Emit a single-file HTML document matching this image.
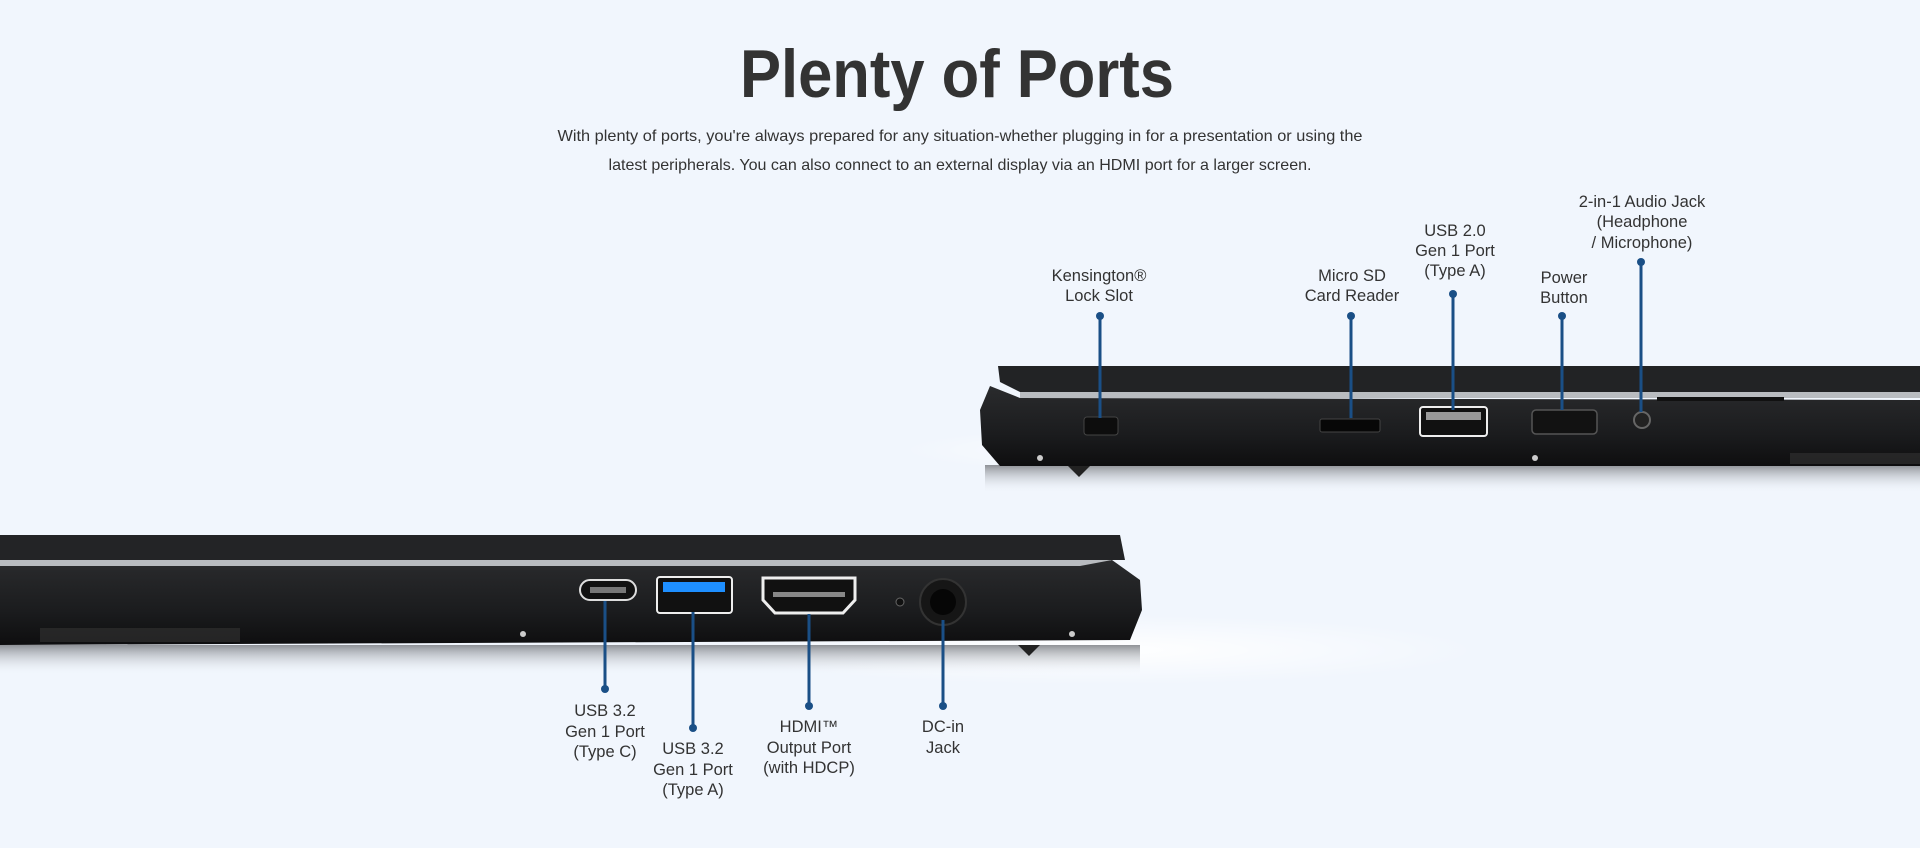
<!DOCTYPE html>
<html><head><meta charset="utf-8"><style>
html,body{margin:0;padding:0;width:1920px;height:848px;overflow:hidden;background:#f1f6fd;}
svg{display:block}
text{font-family:"Liberation Sans",sans-serif;}
</style></head><body>
<svg width="1920" height="848" viewBox="0 0 1920 848" xmlns="http://www.w3.org/2000/svg">
<defs>
<radialGradient id="glow" cx="0.5" cy="0.5" r="0.5">
<stop offset="0" stop-color="#ffffff" stop-opacity="1"/>
<stop offset="1" stop-color="#ffffff" stop-opacity="0"/>
</radialGradient>
<linearGradient id="body" x1="0" y1="0" x2="0" y2="1">
<stop offset="0" stop-color="#2a2b2d"/><stop offset="0.6" stop-color="#1b1c1e"/><stop offset="1" stop-color="#0e0e0f"/>
</linearGradient>
<linearGradient id="shadow" x1="0" y1="0" x2="0" y2="1">
<stop offset="0" stop-color="#7d8085" stop-opacity="0.85"/><stop offset="1" stop-color="#f1f6fd" stop-opacity="0"/>
</linearGradient>
</defs>
<rect width="1920" height="848" fill="#f1f6fd"/>

<text x="957" y="97" text-anchor="middle" font-size="68" font-weight="bold" fill="#333333" textLength="434" lengthAdjust="spacingAndGlyphs">Plenty of Ports</text>
<text x="960" y="141" text-anchor="middle" font-size="16" fill="#333333" textLength="805" lengthAdjust="spacingAndGlyphs">With plenty of ports, you're always prepared for any situation-whether plugging in for a presentation or using the</text>
<text x="960" y="170" text-anchor="middle" font-size="16" fill="#333333" textLength="703" lengthAdjust="spacingAndGlyphs">latest peripherals. You can also connect to an external display via an HDMI port for a larger screen.</text>

<!-- right laptop -->
<ellipse cx="1200" cy="450" rx="300" ry="25" fill="url(#glow)"/>
<rect x="985" y="465" width="935" height="28" fill="url(#shadow)"/>
<path d="M998 366 L1920 366 L1920 392 L1020 392 L1000 382 Z" fill="#222325"/>
<rect x="1020" y="392" width="900" height="6" fill="#b9bcc0"/>
<path d="M990 386 L1020 398 L1920 400 L1920 466 L1000 466 L982 445 L980 410 Z" fill="url(#body)"/>
<rect x="1657" y="397" width="127" height="4" fill="#111"/>
<path d="M1068 466 L1090 466 L1079 477 Z" fill="#222"/>
<rect x="1790" y="453" width="130" height="11" fill="#333" opacity="0.6"/>
<circle cx="1040" cy="458" r="3" fill="#ccc"/><circle cx="1535" cy="458" r="3" fill="#ccc"/>
<rect x="1084" y="417" width="34" height="18" rx="3" fill="#0d0d0d" stroke="#444"/>
<rect x="1320" y="419" width="60" height="13" rx="2" fill="#070707" stroke="#444"/>
<rect x="1420" y="407" width="67" height="29" rx="3" fill="#111" stroke="#eee" stroke-width="2"/>
<rect x="1426" y="412" width="55" height="8" fill="#999"/>
<rect x="1532" y="410" width="65" height="24" rx="4" fill="#121212" stroke="#555" stroke-width="1.5"/>
<circle cx="1642" cy="420" r="8" fill="#222" stroke="#666" stroke-width="2"/>

<!-- left laptop -->
<ellipse cx="1100" cy="650" rx="380" ry="35" fill="url(#glow)"/>
<rect x="0" y="645" width="1140" height="30" fill="url(#shadow)"/>
<path d="M0 535 L1120 535 L1125 560 L0 560 Z" fill="#232426"/>
<rect x="0" y="560" width="1110" height="6" fill="#b8bbbf"/>
<rect x="245" y="566" width="140" height="4" fill="#111"/>
<path d="M0 566 L1080 566 L1112 560 L1140 580 L1142 610 L1130 640 L0 645 Z" fill="url(#body)"/>
<rect x="40" y="628" width="200" height="14" fill="#333" opacity="0.6"/>
<path d="M1018 645 L1040 645 L1029 656 Z" fill="#222"/>
<circle cx="523" cy="634" r="3" fill="#ccc"/><circle cx="1072" cy="634" r="3" fill="#ccc"/>
<rect x="580" y="580" width="56" height="20" rx="10" fill="#111" stroke="#ddd" stroke-width="2"/>
<rect x="590" y="587" width="36" height="6" fill="#777"/>
<rect x="657" y="577" width="75" height="36" rx="3" fill="#111" stroke="#eee" stroke-width="2"/>
<rect x="663" y="582" width="62" height="10" fill="#1e8fff"/>
<path d="M763 578 L855 578 L855 600 L843 613 L775 613 L763 600 Z" fill="#111" stroke="#eee" stroke-width="3"/>
<rect x="773" y="592" width="72" height="5" fill="#888"/>
<circle cx="900" cy="602" r="4" fill="#111" stroke="#666"/>
<circle cx="943" cy="602" r="23" fill="#161616" stroke="#333" stroke-width="2"/>
<circle cx="943" cy="602" r="13" fill="#060606"/>

<!-- connectors -->
<g stroke="#1a4f86" stroke-width="3" fill="#1a4f86">
<line x1="1100" y1="316" x2="1100" y2="418"/><circle cx="1100" cy="316" r="4" stroke="none"/>
<line x1="1351" y1="316" x2="1351" y2="418"/><circle cx="1351" cy="316" r="4" stroke="none"/>
<line x1="1453" y1="294" x2="1453" y2="410"/><circle cx="1453" cy="294" r="4" stroke="none"/>
<line x1="1562" y1="316" x2="1562" y2="410"/><circle cx="1562" cy="316" r="4" stroke="none"/>
<line x1="1641" y1="262" x2="1641" y2="412"/><circle cx="1641" cy="262" r="4" stroke="none"/>
<line x1="605" y1="601" x2="605" y2="689"/><circle cx="605" cy="689" r="4" stroke="none"/>
<line x1="693" y1="612" x2="693" y2="728"/><circle cx="693" cy="728" r="4" stroke="none"/>
<line x1="809" y1="614" x2="809" y2="706"/><circle cx="809" cy="706" r="4" stroke="none"/>
<line x1="943" y1="620" x2="943" y2="706"/><circle cx="943" cy="706" r="4" stroke="none"/>
</g>

<g font-size="16.5" fill="#333" text-anchor="middle">
<text x="1099" y="281">Kensington®</text><text x="1099" y="301">Lock Slot</text>
<text x="1352" y="281">Micro SD</text><text x="1352" y="301">Card Reader</text>
<text x="1455" y="236">USB 2.0</text><text x="1455" y="256">Gen 1 Port</text><text x="1455" y="276">(Type A)</text>
<text x="1564" y="283">Power</text><text x="1564" y="303">Button</text>
<text x="1642" y="207">2-in-1 Audio Jack</text><text x="1642" y="227">(Headphone</text><text x="1642" y="248">/ Microphone)</text>
<text x="605" y="716">USB 3.2</text><text x="605" y="737">Gen 1 Port</text><text x="605" y="757">(Type C)</text>
<text x="693" y="754">USB 3.2</text><text x="693" y="775">Gen 1 Port</text><text x="693" y="795">(Type A)</text>
<text x="809" y="732">HDMI™</text><text x="809" y="753">Output Port</text><text x="809" y="773">(with HDCP)</text>
<text x="943" y="732">DC-in</text><text x="943" y="753">Jack</text>
</g>
</svg>
</body></html>
